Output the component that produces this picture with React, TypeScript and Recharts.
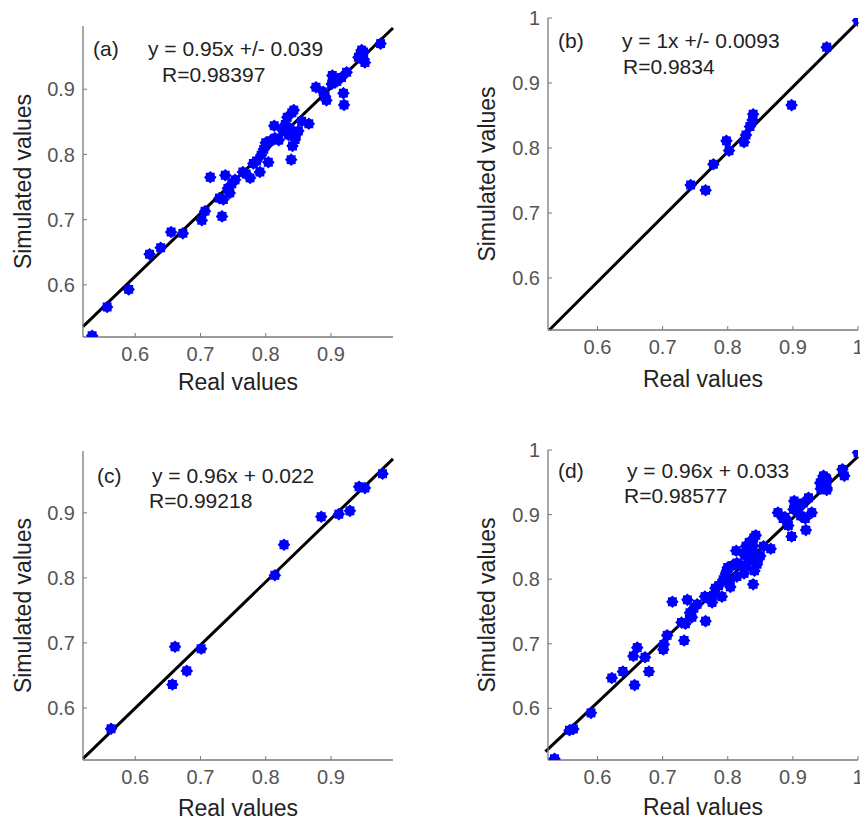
import React from "react";
import { ScatterChart, Scatter, XAxis, YAxis, ReferenceLine, Label } from "recharts";

type Pt = [number, number];

// (a) real vs simulated
const pointsA: Pt[] = [
  [0.534, 0.522], [0.557, 0.566], [0.59, 0.593], [0.622, 0.647], [0.639, 0.657],
  [0.655, 0.681], [0.673, 0.679], [0.702, 0.699], [0.707, 0.713], [0.715, 0.765],
  [0.729, 0.733], [0.735, 0.731], [0.733, 0.705], [0.738, 0.768], [0.742, 0.748],
  [0.745, 0.741], [0.748, 0.755], [0.753, 0.761], [0.765, 0.773], [0.77, 0.77],
  [0.776, 0.764], [0.781, 0.786], [0.786, 0.79], [0.791, 0.773], [0.793, 0.799],
  [0.797, 0.808], [0.804, 0.788], [0.8, 0.818], [0.807, 0.821], [0.814, 0.825],
  [0.82, 0.822], [0.813, 0.844], [0.826, 0.837], [0.83, 0.846], [0.833, 0.857],
  [0.837, 0.84], [0.84, 0.864], [0.843, 0.868], [0.847, 0.832], [0.85, 0.836],
  [0.845, 0.823], [0.841, 0.813], [0.839, 0.792], [0.835, 0.83], [0.855, 0.851],
  [0.866, 0.847], [0.877, 0.903], [0.888, 0.896], [0.891, 0.889], [0.893, 0.883],
  [0.902, 0.921], [0.901, 0.908], [0.909, 0.912], [0.916, 0.918], [0.924, 0.926],
  [0.919, 0.894], [0.92, 0.876], [0.942, 0.949], [0.945, 0.954], [0.947, 0.96],
  [0.95, 0.946], [0.952, 0.941], [0.95, 0.957], [0.976, 0.97],
];

// (b)
const pointsB: Pt[] = [
  [0.743, 0.743], [0.766, 0.735], [0.778, 0.775], [0.798, 0.811], [0.802, 0.796],
  [0.825, 0.809], [0.828, 0.82], [0.834, 0.833], [0.838, 0.843], [0.839, 0.852],
  [0.898, 0.866], [0.952, 0.955], [1.0, 0.996],
];

// (c)
const pointsC: Pt[] = [
  [0.563, 0.568], [0.657, 0.636], [0.661, 0.694], [0.679, 0.657], [0.701, 0.691],
  [0.814, 0.804], [0.828, 0.851], [0.885, 0.894], [0.912, 0.898], [0.929, 0.903],
  [0.943, 0.94], [0.952, 0.938], [0.979, 0.96],
];

// (d) all samples together
const pointsD: Pt[] = [...pointsA, ...pointsB, ...pointsC];

// fitted lines, two ends each
const fitA: Pt[] = [[0.52, 0.536], [0.995, 0.994]];
const fitB: Pt[] = [[0.526, 0.52], [1.0, 0.994]];
const fitC: Pt[] = [[0.52, 0.522], [0.995, 0.983]];
const fitD: Pt[] = [[0.52, 0.533], [1.0, 0.99]];

const ticksShort = [0.6, 0.7, 0.8, 0.9];
const ticksLong = [0.6, 0.7, 0.8, 0.9, 1];

const FONT = '"Liberation Sans", Arial, sans-serif';
const AXIS = "#7a7a7a";

const Star = (props: any) => {
  const { cx, cy } = props;
  if (cx == null || cy == null) return null;
  const pts: string[] = [];
  for (let i = 0; i < 16; i++) {
    const r = i % 2 === 0 ? 6.3 : 4.9;
    const a = (Math.PI * i) / 8;
    pts.push(`${cx + r * Math.cos(a)},${cy + r * Math.sin(a)}`);
  }
  return <polygon points={pts.join(" ")} fill="#0000ff" />;
};

interface PanelProps {
  points: Pt[];
  fit: Pt[];
  left: number;
  top: number;
  width: number;
  height: number;
  margin: { top: number; right: number; bottom: number; left: number };
  yWidth: number;
  xHeight: number;
  xDomain: [number, number];
  yDomain: [number, number];
  ticks: number[];
  xLabelOffset: number;
  yLabelOffset: number;
}

const Panel = (p: PanelProps) => {
  const data = p.points.map(([x, y]) => ({ x, y }));
  return (
    <div style={{ position: "absolute", left: p.left, top: p.top }}>
      <ScatterChart width={p.width} height={p.height} margin={p.margin}>
        <XAxis
          type="number"
          dataKey="x"
          domain={p.xDomain}
          allowDataOverflow
          ticks={p.ticks}
          interval={0}
          height={p.xHeight}
          tickSize={-4}
          tickMargin={14}
          axisLine={{ stroke: AXIS, strokeWidth: 1.3 }}
          tickLine={{ stroke: AXIS }}
          tick={{ fill: "#555", fontSize: 20 }}
          tickFormatter={(v: number) => String(v)}
        >
          <Label
            value="Real values"
            position="insideBottom"
            offset={p.xLabelOffset}
            style={{ fill: "#222", fontSize: 23 }}
          />
        </XAxis>
        <YAxis
          type="number"
          dataKey="y"
          domain={p.yDomain}
          allowDataOverflow
          ticks={p.ticks}
          interval={0}
          width={p.yWidth}
          tickSize={-4}
          tickMargin={12}
          axisLine={{ stroke: AXIS, strokeWidth: 1.3 }}
          tickLine={{ stroke: AXIS }}
          tick={{ fill: "#555", fontSize: 20 }}
          tickFormatter={(v: number) => String(v)}
        >
          <Label
            value="Simulated values"
            angle={-90}
            position="insideLeft"
            offset={p.yLabelOffset}
            style={{ fill: "#222", fontSize: 23, textAnchor: "middle" }}
          />
        </YAxis>
        <Scatter data={data} shape={(s: any) => <Star {...s} />} isAnimationActive={false} />
        <ReferenceLine
          segment={[
            { x: p.fit[0][0], y: p.fit[0][1] },
            { x: p.fit[1][0], y: p.fit[1][1] },
          ]}
          stroke="#000"
          strokeWidth={3}
          ifOverflow="visible"
        />
      </ScatterChart>
    </div>
  );
};

const notes = [
  { x: 93, y: 56, t: "(a)" },
  { x: 148, y: 56, t: "y = 0.95x +/- 0.039" },
  { x: 162, y: 82, t: "R=0.98397" },
  { x: 558, y: 48, t: "(b)" },
  { x: 622, y: 48, t: "y = 1x +/- 0.0093" },
  { x: 623, y: 74, t: "R=0.9834" },
  { x: 97, y: 483, t: "(c)" },
  { x: 152, y: 483, t: "y = 0.96x + 0.022" },
  { x: 149, y: 508, t: "R=0.99218" },
  { x: 558, y: 478, t: "(d)" },
  { x: 627, y: 478, t: "y = 0.96x + 0.033" },
  { x: 624, y: 503, t: "R=0.98577" },
];

export default function App() {
  return (
    <div
      style={{
        position: "absolute",
        left: 0,
        top: 0,
        width: 860,
        height: 818,
        overflow: "hidden",
        background: "#fff",
        fontFamily: FONT,
      }}
    >
      <Panel
        points={pointsA}
        fit={fitA}
        left={0}
        top={0}
        width={400}
        height={400}
        margin={{ top: 26, right: 7, bottom: 0, left: 0 }}
        yWidth={83}
        xHeight={63}
        xDomain={[0.52, 0.995]}
        yDomain={[0.52, 0.997]}
        ticks={ticksShort}
        xLabelOffset={10}
        yLabelOffset={23}
      />
      <Panel
        points={pointsB}
        fit={fitB}
        left={460}
        top={0}
        width={400}
        height={400}
        margin={{ top: 18, right: 2, bottom: 0, left: 0 }}
        yWidth={88}
        xHeight={70}
        xDomain={[0.524, 1]}
        yDomain={[0.52, 1]}
        ticks={ticksLong}
        xLabelOffset={13.5}
        yLabelOffset={27}
      />
      <Panel
        points={pointsC}
        fit={fitC}
        left={0}
        top={430}
        width={400}
        height={388}
        margin={{ top: 21, right: 7, bottom: 0, left: 0 }}
        yWidth={83}
        xHeight={58}
        xDomain={[0.52, 0.995]}
        yDomain={[0.52, 0.995]}
        ticks={ticksShort}
        xLabelOffset={2.5}
        yLabelOffset={23}
      />
      <Panel
        points={pointsD}
        fit={fitD}
        left={460}
        top={430}
        width={400}
        height={388}
        margin={{ top: 20, right: 2, bottom: 0, left: 0 }}
        yWidth={88}
        xHeight={58}
        xDomain={[0.524, 1]}
        yDomain={[0.52, 1]}
        ticks={ticksLong}
        xLabelOffset={3.5}
        yLabelOffset={27}
      />
      <svg
        width={860}
        height={818}
        style={{ position: "absolute", left: 0, top: 0, pointerEvents: "none" }}
      >
        {notes.map((n) => (
          <text key={n.t} x={n.x} y={n.y} fontSize={21} fill="#222" fontFamily={FONT}>
            {n.t}
          </text>
        ))}
      </svg>
    </div>
  );
}
